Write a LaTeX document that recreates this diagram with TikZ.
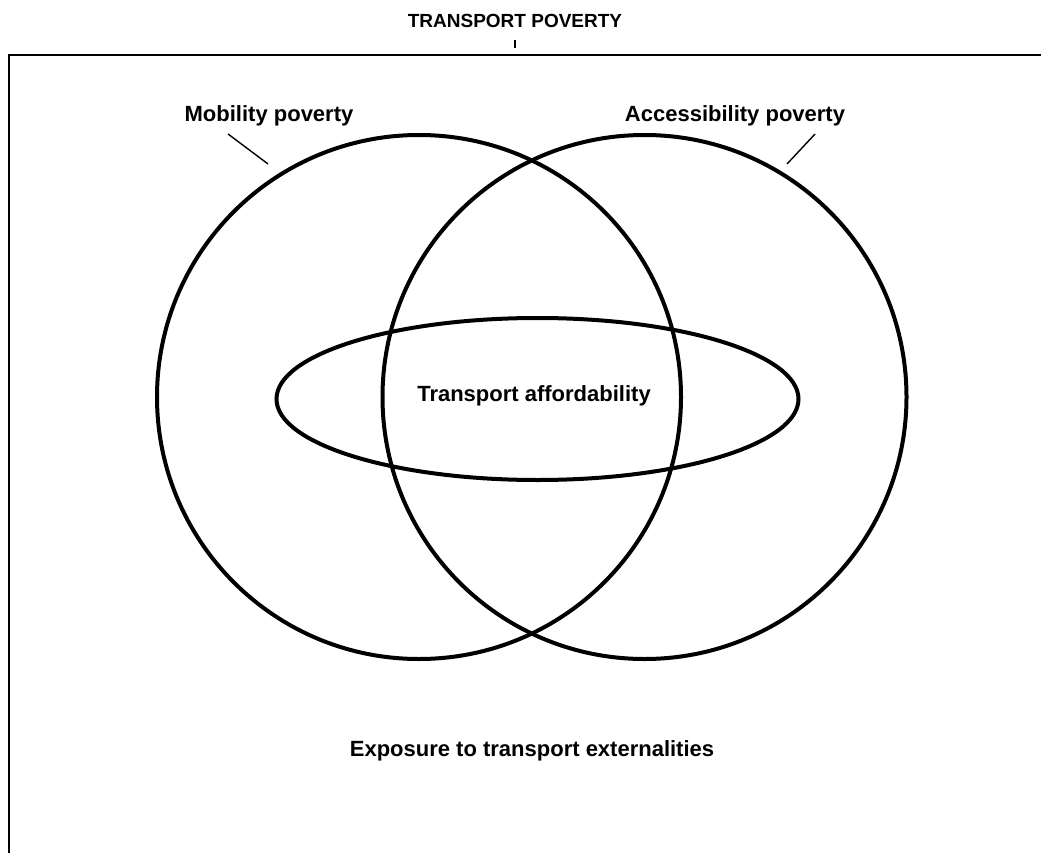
\documentclass[tikz,border=0pt]{standalone}
\usepackage{fontspec}
\setmainfont{Liberation Sans}
\begin{document}
\begin{tikzpicture}[x=1pt,y=-1pt,
  lbl/.style={font=\fontsize{22}{26}\selectfont\bfseries, inner sep=0pt},
  ttl/.style={font=\fontsize{19}{23}\selectfont\bfseries, inner sep=0pt},
  ring/.style={line width=4pt},
  leader/.style={line width=1.4pt},
  frame/.style={line width=2.4pt}]
\useasboundingbox (0,0) rectangle (1041,853);
% frame
\coordinate (fbl) at (9,860);
\coordinate (ftl) at (9,55);
\coordinate (ftr) at (1050,55);
\draw[frame] (fbl) -- (ftl) -- (ftr);
% title
\node[ttl] (title) at (515,21) {TRANSPORT POVERTY};
\coordinate (tickA) at (515,40);
\coordinate (tickB) at (515,48);
\draw[line width=1.2pt] (tickA) -- (tickB);
% circles
\node[ring, draw, circle, minimum size=524pt, inner sep=0pt] (mob) at (419,397) {};
\node[ring, draw, circle, minimum size=524pt, inner sep=0pt] (acc) at (644.5,397) {};
% ellipse
\draw[ring] (537.5,399) ellipse [x radius=261pt, y radius=81pt];
\node[lbl] (aff) at (534,396) {Transport affordability};
% labels
\node[lbl] (mobl) at (269,116) {Mobility poverty};
\node[lbl] (accl) at (735,116) {Accessibility poverty};
\coordinate (mA) at (228,134);
\coordinate (mB) at (268,164);
\coordinate (aA) at (815,134);
\coordinate (aB) at (787,164);
\draw[leader] (mA) -- (mB);
\draw[leader] (aA) -- (aB);
\node[lbl] (ext) at (532,751) {Exposure to transport externalities};
\end{tikzpicture}
\end{document}
